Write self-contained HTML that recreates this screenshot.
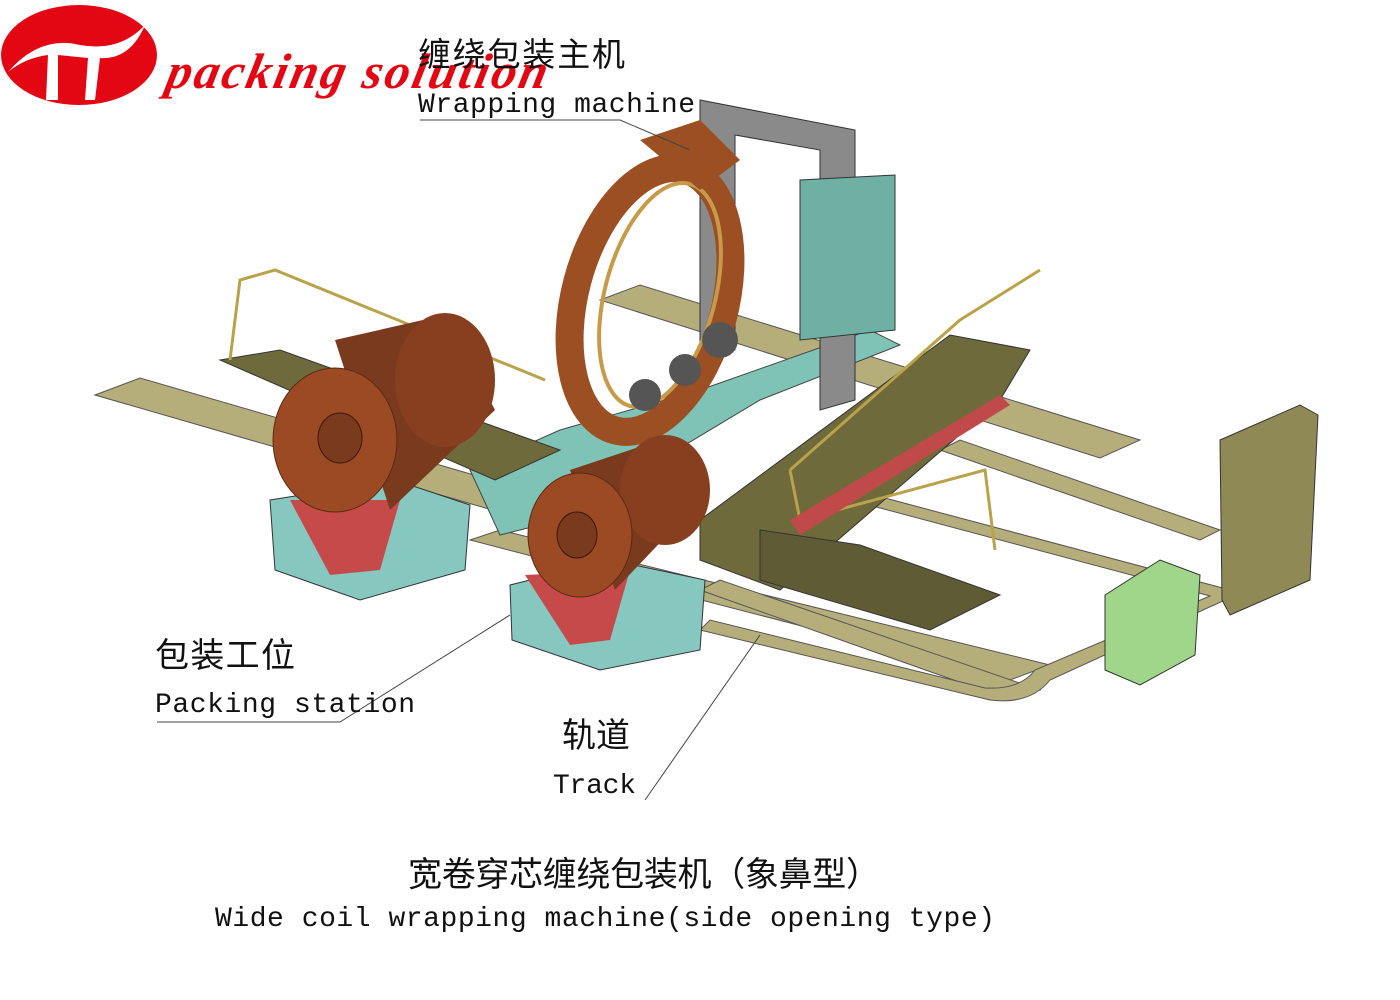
<!DOCTYPE html>
<html><head><meta charset="utf-8"><style>
html,body{margin:0;padding:0;background:#fff;width:1400px;height:1000px;overflow:hidden}
svg{display:block}
.cn{font-family:"Liberation Sans","Noto Sans CJK SC",sans-serif;fill:#111}
.en{font-family:"Liberation Mono","DejaVu Sans Mono",monospace;fill:#111}
</style></head><body>
<svg width="1400" height="1000" viewBox="0 0 1400 1000" xmlns="http://www.w3.org/2000/svg">
<!-- logo -->
<ellipse cx="79" cy="55" rx="78" ry="50" fill="#e30613"/>
<path d="M8 72 Q40 35 80 45 Q120 52 145 25 Q130 60 100 58 L95 100 L85 100 L88 58 L58 55 L58 100 L46 100 L48 55 Q25 58 8 72Z" fill="#fff"/>
<text x="165" y="88" font-family="Liberation Serif,serif" font-style="italic" font-weight="bold" font-size="50" fill="#e30613" transform="skewX(-12) translate(18,0)" textLength="380">packing solution</text>
<!-- tracks -->
<g fill="#b5ae7a" stroke="#555" stroke-width="1">
<polygon points="95,395 140,378 560,500 520,518"/>
<polygon points="600,300 640,285 1140,440 1100,458"/>
<polygon points="470,540 500,530 1050,665 1010,680"/>
<polygon points="700,590 720,580 1040,690 1010,700"/>
<polygon points="940,450 960,440 1220,530 1200,540"/>
<path d="M780 470 L1230 590 L1225 600 L1050 680 Q1030 705 990 700 L700 630 L710 620 L985 688 Q1020 690 1035 670 L1210 596 L775 480Z"/>
</g>
<!-- central teal base -->
<polygon points="470,470 560,430 700,390 870,330 900,345 760,400 560,520 500,535" fill="#7fc2b6" stroke="#444"/>
<!-- left platform -->
<polygon points="220,360 280,350 560,450 495,480" fill="#6e6a3c" stroke="#333"/>
<polyline points="230,360 240,280 275,270 545,380" fill="none" stroke="#b9a24a" stroke-width="3"/>
<!-- right platform -->
<polygon points="700,520 950,335 1030,350 1000,400 780,590 700,560" fill="#6e6a3c" stroke="#333"/>
<polygon points="760,530 860,545 1000,595 930,630 760,580" fill="#5f5b35" stroke="#333"/>
<polyline points="790,470 960,320 1040,270" fill="none" stroke="#b9a24a" stroke-width="3"/>
<polyline points="790,470 800,520 985,470 995,550" fill="none" stroke="#b9a24a" stroke-width="3"/>
<polygon points="790,520 1000,395 1010,405 800,535" fill="#c04a4a"/>
<!-- machine frame -->
<polygon points="700,100 855,130 855,400 820,410 820,150 735,135 735,350 700,355" fill="#8a8a8a" stroke="#333"/>
<polygon points="800,180 895,175 895,330 800,340" fill="#6eb0a4" stroke="#333"/>
<!-- ring -->
<ellipse cx="650" cy="300" rx="75" ry="135" fill="none" stroke="#9b4f22" stroke-width="28" transform="rotate(15 650 300)"/>
<ellipse cx="660" cy="295" rx="55" ry="115" fill="none" stroke="#c79a4a" stroke-width="4" transform="rotate(15 660 295)"/>
<polygon points="640,140 700,120 740,160 700,190" fill="#9b4f22"/>
<g fill="#555"><circle cx="720" cy="340" r="18"/><circle cx="685" cy="370" r="16"/><circle cx="645" cy="395" r="16"/></g>
<!-- left coil support -->
<polygon points="270,500 395,480 470,505 465,570 360,600 275,570" fill="#86c7c0" stroke="#333"/>
<polygon points="290,500 400,500 380,570 330,575" fill="#c74a4a"/>
<!-- right coil support -->
<polygon points="510,585 610,560 705,580 700,650 600,670 512,640" fill="#86c7c0" stroke="#333"/>
<polygon points="525,575 630,570 610,640 570,645" fill="#c74a4a"/>
<!-- big coil -->
<polygon points="335,340 445,315 495,410 390,510" fill="#7a3a1e"/>
<ellipse cx="445" cy="380" rx="50" ry="67" fill="#873f20"/>
<ellipse cx="335" cy="440" rx="62" ry="72" fill="#9c4a24" stroke="#5a2a12"/>
<ellipse cx="340" cy="438" rx="22" ry="25" fill="#7a3a1e" stroke="#3a1a0a"/>
<!-- small coil -->
<polygon points="570,470 660,440 710,490 615,590" fill="#7a3a1e"/>
<ellipse cx="665" cy="490" rx="45" ry="55" fill="#873f20"/>
<ellipse cx="580" cy="535" rx="52" ry="62" fill="#9c4a24" stroke="#5a2a12"/>
<ellipse cx="577" cy="535" rx="20" ry="23" fill="#7a3a1e" stroke="#3a1a0a"/>
<!-- cabinets -->
<polygon points="1220,440 1300,405 1318,415 1310,580 1230,615 1222,600" fill="#8f8a55" stroke="#333"/>
<polygon points="1105,595 1160,560 1200,575 1195,655 1140,685 1105,670" fill="#9fd68a" stroke="#333"/>
<!-- leader lines -->
<g stroke="#444" fill="none" stroke-width="1">
<polyline points="420,120 620,120 690,150"/>
<polyline points="157,722 340,722 510,615"/>
<polyline points="645,800 760,635"/>
</g>
<!-- labels -->
<text class="cn" x="418" y="66" font-size="33" textLength="207">缠绕包装主机</text>
<text class="en" x="418" y="112" font-size="28" textLength="277">Wrapping machine</text>
<text class="cn" x="155" y="667" font-size="34" textLength="140">包装工位</text>
<text class="en" x="155" y="712" font-size="28" textLength="260">Packing station</text>
<text class="cn" x="562" y="747" font-size="34">轨道</text>
<text class="en" x="553" y="793" font-size="28" textLength="83">Track</text>
<text class="cn" x="408" y="886" font-size="34" textLength="472">宽卷穿芯缠绕包装机（象鼻型）</text>
<text class="en" x="215" y="926" font-size="28" textLength="780">Wide coil wrapping machine(side opening type)</text>
</svg>
</body></html>
